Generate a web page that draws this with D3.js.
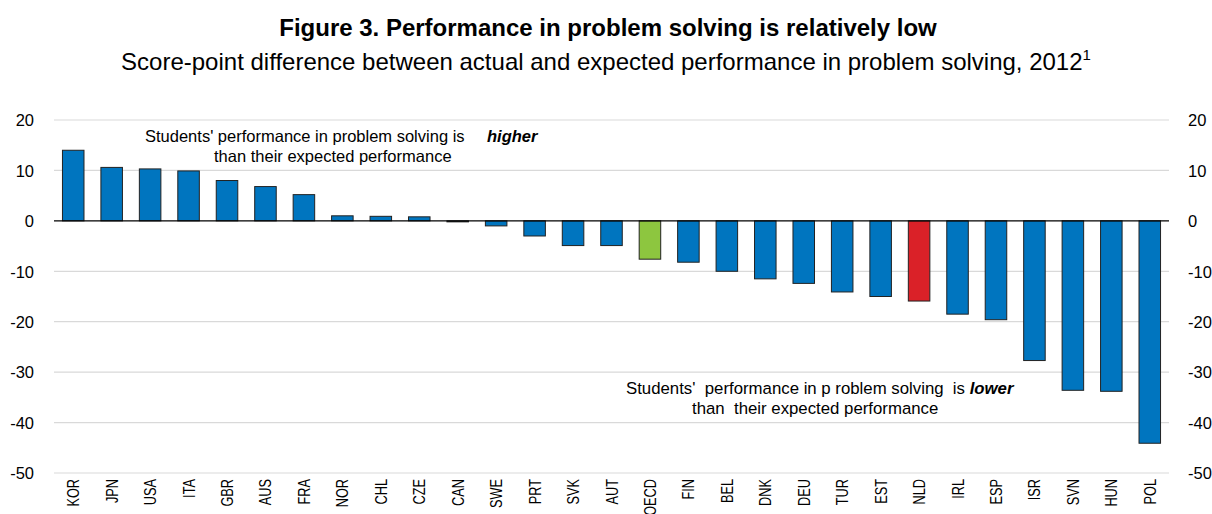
<!DOCTYPE html>
<html><head><meta charset="utf-8">
<script src="https://cdn.jsdelivr.net/npm/d3@7"></script>
<style>
body{margin:0;background:#fff;}
svg text{font-family:"Liberation Sans",Arial,sans-serif;fill:#000;}
</style></head>
<body>
<svg id="chart" width="1212" height="514"></svg>
<script>
const categories = ["KOR","JPN","USA","ITA","GBR","AUS","FRA","NOR","CHL","CZE","CAN","SWE","PRT","SVK","AUT","OECD","FIN","BEL","DNK","DEU","TUR","EST","NLD","IRL","ESP","ISR","SVN","HUN","POL"];
const values = [14.0,10.6,10.3,9.9,8.0,6.8,5.2,1.0,0.9,0.8,-0.2,-1.0,-3.0,-4.9,-4.9,-7.6,-8.2,-10.0,-11.5,-12.4,-14.1,-15.0,-15.9,-18.5,-19.6,-27.7,-33.6,-33.8,-44.1];
const yTicks = [20,10,0,-10,-20,-30,-40,-50];
const highlight = {"OECD":"#8DC63F","NLD":"#DA2128"};
const baseColor = "#0075BF";

const svg = d3.select("#chart");
const pLeft = 54, pRight = 1169, pTop = 120, pBottom = 473;
const x = d3.scaleBand().domain(categories).range([pLeft,pRight]).paddingInner(0.44).paddingOuter(0.22);
const y = d3.scaleLinear().domain([-50,20]).range([pBottom,pTop]);

// title
svg.append("text").attr("x",608).attr("y",36).attr("text-anchor","middle")
  .style("font-size","24px").style("font-weight","bold")
  .text("Figure 3. Performance in problem solving is relatively low");
const sub = svg.append("text").attr("x",606).attr("y",70).attr("text-anchor","middle").style("font-size","24px");
sub.append("tspan").text("Score-point difference between actual and expected performance in problem solving, 2012");
sub.append("tspan").attr("dy",-10).style("font-size","15px").text("1");

// gridlines
svg.append("g").selectAll("line").data(yTicks.filter(d=>d!==0)).join("line")
  .attr("x1",pLeft).attr("x2",pRight).attr("y1",d=>y(d)).attr("y2",d=>y(d))
  .attr("stroke","#d9d9d9").attr("stroke-width",1.2);

// axes labels (left and right)
const fmt = d => String(d);
const yl = d3.axisLeft(y).tickValues(yTicks).tickFormat(fmt).tickSize(0).tickPadding(20);
const gl = svg.append("g").attr("transform",`translate(${pLeft},0)`).call(yl);
gl.select(".domain").remove();
gl.selectAll("text").style("font-size","16.5px").style("font-family","'Liberation Sans',Arial,sans-serif").attr("fill","#000").attr("dy","0.35em");
const yr = d3.axisRight(y).tickValues(yTicks).tickFormat(fmt).tickSize(0).tickPadding(19);
const gr = svg.append("g").attr("transform",`translate(${pRight},0)`).call(yr);
gr.select(".domain").remove();
gr.selectAll("text").style("font-size","16.5px").style("font-family","'Liberation Sans',Arial,sans-serif").attr("fill","#000").attr("dy","0.35em");

// bars
svg.append("g").selectAll("rect").data(categories.map((c,i)=>({c,v:values[i]}))).join("rect")
  .attr("x",d=>x(d.c)).attr("width",x.bandwidth())
  .attr("y",d=>y(Math.max(0,d.v))).attr("height",d=>Math.abs(y(d.v)-y(0)))
  .attr("fill",d=>highlight[d.c]||baseColor)
  .attr("stroke","#222").attr("stroke-width",1);

// zero line
svg.append("line").attr("x1",pLeft).attr("x2",pRight).attr("y1",y(0)).attr("y2",y(0))
  .attr("stroke","#000").attr("stroke-width",1.3);

// x labels (condensed)
svg.append("g").selectAll("text").data(categories).join("text")
  .attr("transform",d=>`translate(${x(d)+x.bandwidth()/2+6},479) rotate(-90) scale(0.75,1)`)
  .attr("text-anchor","end").style("font-size","17px").text(d=>d);

// annotations
const a1 = svg.append("text").attr("x",145).attr("y",142).style("font-size","16.5px");
a1.append("tspan").text("Students' performance in problem solving is");
a1.append("tspan").attr("x",487).style("font-weight","bold").style("font-style","italic").text("higher");
svg.append("text").attr("x",214).attr("y",162).style("font-size","16.5px")
  .text("than their expected performance");

const a2 = svg.append("text").attr("x",626).attr("y",394).style("font-size","16.8px").style("white-space","pre");
a2.append("tspan").text("Students'  performance in p roblem solving  is ");
a2.append("tspan").style("font-weight","bold").style("font-style","italic").text("lower");
svg.append("text").attr("x",692).attr("y",414).style("font-size","16.8px").style("white-space","pre")
  .text("than  their expected performance");
</script>
</body></html>
